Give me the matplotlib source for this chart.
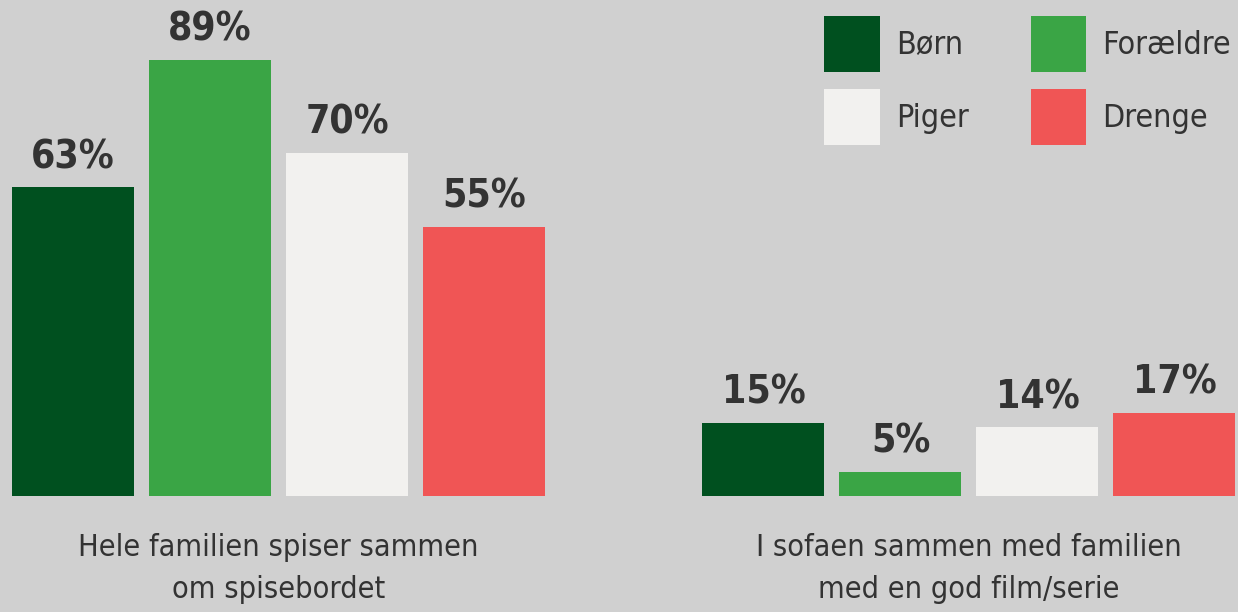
import numpy as np
import matplotlib
matplotlib.use("Agg")
import matplotlib.pyplot as plt
from matplotlib.patches import Patch

# data
groups = ["Hele familien spiser sammen\nom spisebordet",
          "I sofaen sammen med familien\nmed en god film/serie"]
series = ["Børn", "Forældre", "Piger", "Drenge"]
values = {
    "Børn":     [63, 15],
    "Forældre": [89, 5],
    "Piger":    [70, 14],
    "Drenge":   [55, 17],
}
colors = {
    "Børn": "#00501f",
    "Forældre": "#3aa545",
    "Piger": "#f2f1ef",
    "Drenge": "#f05555",
}

bg = "#d0d0d0"
txt = "#333333"
# smal skrift
plt.rcParams["font.family"] = ["DejaVu Sans"]
plt.rcParams["font.stretch"] = "condensed"

fig = plt.figure(figsize=(12.38, 6.12), dpi=100, facecolor=bg)
ax = fig.add_axes([0, 116 / 612, 1, 1 - 116 / 612 - 0.01])
ax.set_facecolor(bg)

group_gap = 5.04
width = 0.89
for i, s in enumerate(series):
    xs = np.arange(len(groups)) * group_gap + i
    bars = ax.bar(xs, values[s], width=width, color=colors[s], label=s)
    for b, v in zip(bars, values[s]):
        ax.annotate(f"{v}%", (b.get_x() + b.get_width() / 2, b.get_height()),
                    xytext=(0, 8), textcoords="offset points",
                    ha="center", va="bottom", fontsize=28,
                    fontweight="bold", color=txt)

ax.set_xlim(-0.533, 8.504)
ax.set_ylim(0, 100)
ax.set_xticks(np.arange(len(groups)) * group_gap + 1.5)
ax.set_xticklabels(groups, fontsize=22, color=txt, linespacing=1.55)
ax.tick_params(axis="x", length=0, pad=27)
ax.set_yticks([])
for sp in ax.spines.values():
    sp.set_visible(False)

handles = [Patch(facecolor=colors[s], label=s) for s in series]
leg = fig.legend(handles=[handles[0], handles[2], handles[1], handles[3]],
                 labels=[series[0], series[2], series[1], series[3]],
                 ncol=2, loc="upper right",
                 bbox_to_anchor=(1231 / 1238, 1 - 16 / 612),
                 frameon=False, fontsize=23, handlelength=1.75,
                 handleheight=2.32, handletextpad=0.5,
                 columnspacing=1.94, labelspacing=0.53, borderpad=0,
                 borderaxespad=0)
for t in leg.get_texts():
    t.set_color(txt)

fig.savefig("out.png", dpi=100, facecolor=bg)
